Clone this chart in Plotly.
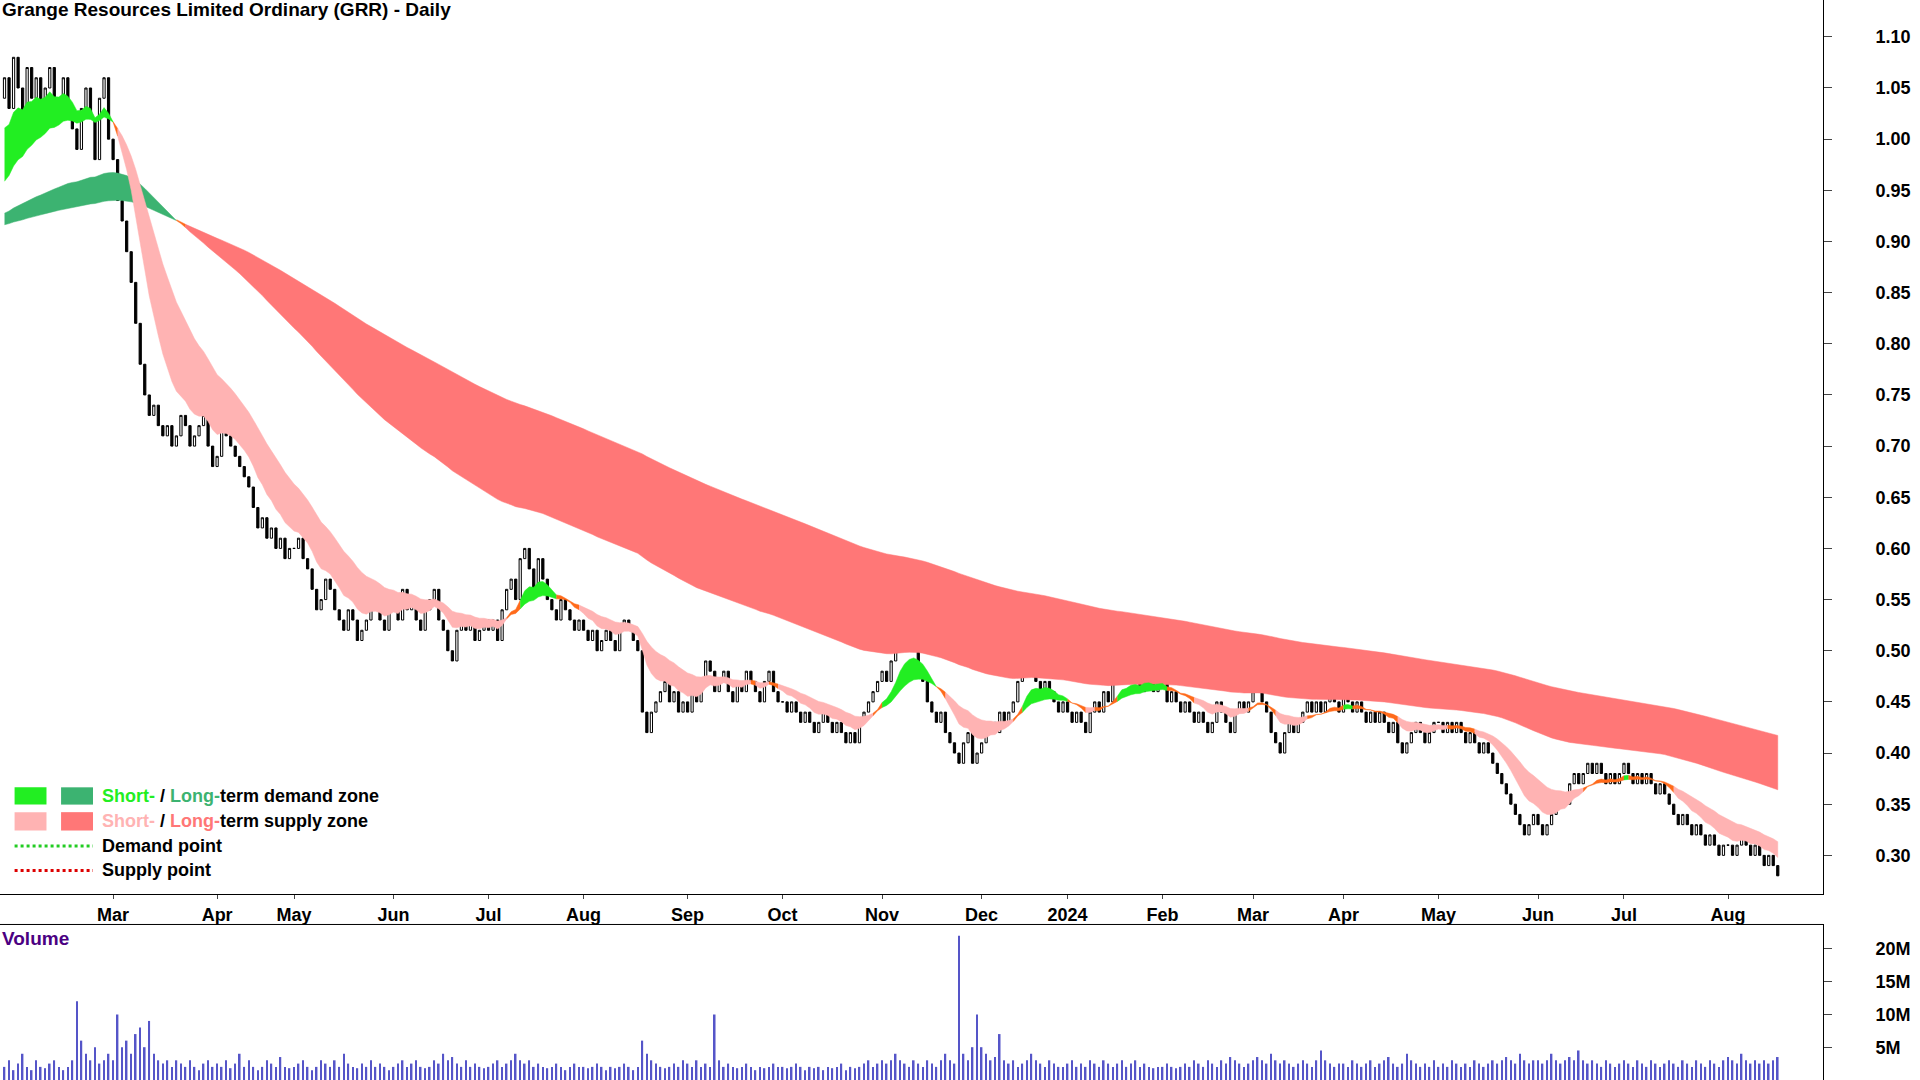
import plotly.graph_objects as go

# daily closes by month
month_labels = ["", "Mar", "Apr", "May", "Jun", "Jul", "Aug", "Sep", "Oct", "Nov", "Dec",
                "2024", "Feb", "Mar", "Apr", "May", "Jun", "Jul", "Aug"]
closes_by_month = [
    [1.06, 1.03, 1.08, 1.05, 1.02, 1.07, 1.04, 1.06, 1.03, 1.05, 1.07, 1.02, 1.04, 1.06, 1.03, 1.01, 0.99, 1.03, 1.05, 1.02, 0.98, 1.04, 1.06, 1.00],
    [0.98, 0.94, 0.92, 0.89, 0.86, 0.82, 0.78, 0.75, 0.73, 0.74, 0.72, 0.71, 0.72, 0.70, 0.71, 0.73, 0.72, 0.70, 0.71, 0.72, 0.73, 0.70, 0.68],
    [0.69, 0.72, 0.71, 0.70, 0.69, 0.68, 0.67, 0.66, 0.64, 0.62, 0.63, 0.61, 0.62, 0.60, 0.61, 0.59, 0.60],
    [0.60, 0.61, 0.59, 0.58, 0.56, 0.54, 0.55, 0.57, 0.56, 0.54, 0.53, 0.52, 0.54, 0.53, 0.51, 0.52, 0.53, 0.55, 0.54, 0.53, 0.52, 0.54],
    [0.55, 0.53, 0.56, 0.54, 0.55, 0.53, 0.52, 0.54, 0.55, 0.56, 0.53, 0.52, 0.50, 0.49, 0.52, 0.53, 0.52, 0.53, 0.51, 0.52, 0.53],
    [0.52, 0.53, 0.51, 0.54, 0.56, 0.57, 0.55, 0.59, 0.60, 0.58, 0.56, 0.59, 0.57, 0.55, 0.54, 0.53, 0.55, 0.54, 0.53, 0.52, 0.53],
    [0.52, 0.51, 0.52, 0.50, 0.51, 0.52, 0.51, 0.50, 0.52, 0.53, 0.52, 0.51, 0.50, 0.44, 0.42, 0.44, 0.45, 0.46, 0.47, 0.45, 0.46, 0.44, 0.45],
    [0.44, 0.46, 0.45, 0.47, 0.49, 0.48, 0.46, 0.47, 0.48, 0.46, 0.45, 0.47, 0.46, 0.48, 0.47, 0.46, 0.45, 0.47, 0.48, 0.46, 0.45],
    [0.45, 0.44, 0.45, 0.44, 0.43, 0.44, 0.43, 0.42, 0.43, 0.44, 0.43, 0.42, 0.43, 0.42, 0.41, 0.42, 0.41, 0.43, 0.44, 0.45, 0.46, 0.47],
    [0.48, 0.47, 0.49, 0.51, 0.53, 0.52, 0.51, 0.50, 0.48, 0.47, 0.45, 0.44, 0.43, 0.44, 0.42, 0.41, 0.40, 0.39, 0.41, 0.42, 0.39, 0.40],
    [0.41, 0.42, 0.43, 0.42, 0.44, 0.43, 0.44, 0.45, 0.47, 0.48, 0.50, 0.49, 0.47, 0.46, 0.47, 0.46, 0.45, 0.44, 0.45],
    [0.44, 0.43, 0.44, 0.43, 0.42, 0.44, 0.45, 0.44, 0.46, 0.45, 0.47, 0.48, 0.49, 0.47, 0.48, 0.47, 0.46, 0.48, 0.47, 0.46, 0.47],
    [0.47, 0.45, 0.46, 0.45, 0.44, 0.45, 0.44, 0.43, 0.44, 0.43, 0.42, 0.43, 0.45, 0.44, 0.43, 0.42, 0.44, 0.45, 0.44, 0.45],
    [0.46, 0.47, 0.45, 0.44, 0.42, 0.41, 0.40, 0.42, 0.43, 0.42, 0.43, 0.44, 0.45, 0.44, 0.45, 0.44, 0.45, 0.46, 0.45, 0.44],
    [0.46, 0.45, 0.44, 0.45, 0.44, 0.43, 0.44, 0.43, 0.44, 0.43, 0.42, 0.43, 0.41, 0.40, 0.41, 0.42, 0.43, 0.42, 0.41, 0.42, 0.43],
    [0.43, 0.42, 0.43, 0.42, 0.43, 0.42, 0.41, 0.42, 0.41, 0.40, 0.41, 0.40, 0.39, 0.38, 0.37, 0.36, 0.35, 0.34, 0.33, 0.32, 0.33, 0.34],
    [0.33, 0.32, 0.33, 0.34, 0.35, 0.36, 0.35, 0.37, 0.38, 0.37, 0.38, 0.39, 0.38, 0.39, 0.38, 0.37, 0.38, 0.37, 0.38],
    [0.39, 0.38, 0.37, 0.38, 0.37, 0.38, 0.37, 0.36, 0.37, 0.36, 0.35, 0.34, 0.33, 0.34, 0.33, 0.32, 0.33, 0.32, 0.31, 0.32, 0.31, 0.30, 0.31],
    [0.31, 0.30, 0.31, 0.32, 0.31, 0.30, 0.31, 0.30, 0.29, 0.30, 0.29, 0.28],
]
# volume in millions, same months
volume_by_month = [
    [2, 3, 1.5, 2.5, 4, 2, 1.5, 3, 2, 1.8, 2.5, 3, 2, 1.5, 2, 3, 12, 6, 4, 3, 5, 2.5, 3, 4],
    [3, 10, 5, 6, 4, 7, 8, 5, 9, 4, 3, 2.5, 3, 2, 3, 2.5, 2, 3, 2, 1.5, 2.5, 3, 2],
    [2.5, 2, 3, 1.8, 2.5, 4, 2, 3, 2, 1.5, 2, 3, 2.5, 2, 3.5, 2, 1.8],
    [2, 2.5, 3, 2, 1.5, 2, 3, 2.5, 2, 3, 2, 4, 2.5, 2, 1.8, 2.5, 2, 3, 2, 2.5, 2, 1.5],
    [2, 2.5, 3, 2, 2.5, 3, 2, 1.8, 2, 3, 2.5, 4, 3, 3.5, 2.5, 2, 3, 2, 2.5, 2, 1.8],
    [2, 2.5, 3, 2, 2.5, 3, 4, 3, 2.5, 3, 2, 2.5, 2, 1.8, 2, 2.5, 2, 1.5, 2, 2.5, 2],
    [2, 1.8, 2, 2.5, 2, 1.5, 2, 1.8, 2, 2.5, 2, 1.5, 2, 6, 4, 3, 2.5, 2, 1.8, 2, 2.5, 2, 3],
    [2.5, 2, 3, 2, 2.5, 2, 10, 3, 2, 2.5, 2, 1.8, 2, 2.5, 2, 1.5, 2, 1.8, 2, 2.5, 2],
    [2, 1.8, 2, 2.5, 2, 1.5, 2, 1.8, 2, 1.5, 2, 1.8, 2, 2.5, 1.5, 2, 1.8, 2, 2.5, 3, 2, 2.5],
    [3, 2.5, 3, 4, 3, 2.5, 2, 3, 2.5, 2, 3, 2.5, 2, 3, 4, 3, 2.5, 22, 4, 3, 5, 10],
    [5, 4, 3, 3.5, 7, 3, 2.5, 3, 2, 2.5, 3, 4, 3, 2.5, 2, 3, 2.5, 2, 2],
    [2.5, 3, 2, 2.5, 2, 3, 2.5, 2, 3, 2.5, 2, 2.5, 3, 2, 2.5, 3, 2, 2.5, 2, 1.8, 2],
    [2, 2.5, 2, 1.8, 2, 2.5, 2, 3, 2.5, 2, 3, 2.5, 2, 3, 2.5, 3.5, 3, 2.5, 2, 2.5],
    [3, 3.5, 3, 2.5, 4, 3, 2.5, 3, 2.5, 2, 2.5, 3, 2.5, 2, 3, 4.5, 3, 2.5, 2, 2.5],
    [2.5, 2, 3, 2.5, 2, 2.5, 3, 2, 2.5, 3, 3.5, 2.5, 2, 2.5, 4, 3, 2.5, 2, 2.5, 2, 3],
    [2, 2.5, 2, 3, 2.5, 2, 2.5, 2, 3, 2.5, 2, 2.5, 3, 2.5, 3, 3.5, 3, 2.5, 4, 3, 2.5, 3],
    [3, 2.5, 3, 4, 3, 2.5, 3, 3.5, 3, 4.5, 3, 2.5, 3, 2.5, 2, 3, 2.5, 2, 2.5],
    [3, 2.5, 2, 3, 2.5, 2, 3, 2.5, 2, 2.5, 3, 2.5, 2, 3, 2.5, 2, 3, 2.5, 2, 3, 2.5, 2, 3],
    [3.5, 3, 2.5, 4, 3, 2.5, 3, 2.5, 3, 2.5, 3, 3.5],
]
first_open = 1.04
# starting values of the moving-average bands at the left edge
short_seed = [1.00, 0.95]
long_seed = [0.925, 0.915]

close = [c for m in closes_by_month for c in m]
volume = [v * 1e6 for m in volume_by_month for v in m]
n = len(close)
idx = list(range(n))
opn = [first_open] + close[:-1]
high = [max(o, c) for o, c in zip(opn, close)]
low = [min(o, c) for o, c in zip(opn, close)]

month_start = []
k = 0
for m in closes_by_month:
    month_start.append(k)
    k += len(m)


def ema(vals, span, seed):
    a = 2 / (span + 1)
    out, e = [], seed
    for v in vals:
        e = e + a * (v - e)
        out.append(e)
    return out


fig = go.Figure()


def band(fast, slow, cols, tol):
    up = [max(a, b) for a, b in zip(fast, slow)]
    lo = [min(a, b) for a, b in zip(fast, slow)]
    state = []
    for a, b in zip(fast, slow):
        state.append("o" if abs(a - b) < tol else ("d" if a > b else "s"))
    i = 0
    while i < n:
        j = i
        while j + 1 < n and state[j + 1] == state[i]:
            j += 1
        e = min(j + 1, n - 1)
        xs = idx[i:e + 1] + idx[i:e + 1][::-1]
        ys = up[i:e + 1] + lo[i:e + 1][::-1]
        fig.add_trace(go.Scatter(x=xs, y=ys, fill="toself", fillcolor=cols[state[i]],
                                 line=dict(width=0.5, color=cols[state[i]]), mode="lines",
                                 hoverinfo="skip", showlegend=False))
        i = j + 1


band(ema(close, 100, long_seed[0]), ema(close, 210, long_seed[1]),
     {"d": "#3cb371", "s": "#ff7777", "o": "#ff6a1a"}, 0.002)
band(ema(close, 10, short_seed[0]), ema(close, 24, short_seed[1]),
     {"d": "#22ee22", "s": "#ffb3b3", "o": "#ff6a1a"}, 0.004)

fig.add_trace(go.Candlestick(x=idx, open=opn, high=high, low=low, close=close,
                             increasing=dict(line=dict(color="black", width=1), fillcolor="white"),
                             decreasing=dict(line=dict(color="black", width=1), fillcolor="black"),
                             whiskerwidth=0, showlegend=False, xaxis="x", yaxis="y"))
fig.add_trace(go.Bar(x=idx, y=volume, marker=dict(color="#5555c8", line=dict(width=0)),
                     width=0.35, showlegend=False, xaxis="x2", yaxis="y2"))

font = "Liberation Sans, Arial"
tf = dict(size=18, family=font, weight="bold")
xr = [-1, 402]
fig.update_layout(
    width=1920, height=1080, margin=dict(l=0, r=97, t=0, b=0),
    paper_bgcolor="white", plot_bgcolor="white",
    font=dict(family=font, color="black"),
    xaxis=dict(domain=[0, 1], range=xr, anchor="y", tickvals=month_start[1:], ticktext=month_labels[1:],
               showgrid=False, showline=True, linecolor="black", ticks="outside", ticklen=4,
               tickfont=tf, rangeslider=dict(visible=False)),
    yaxis=dict(domain=[0.172, 1], range=[0.262, 1.136], side="right", anchor="x",
               tickvals=[0.30, 0.35, 0.40, 0.45, 0.50, 0.55, 0.60, 0.65, 0.70, 0.75, 0.80, 0.85, 0.90, 0.95, 1.00, 1.05, 1.10],
               tickformat=".2f", showgrid=False, showline=True, linecolor="black", ticks="outside",
               ticklen=8, tickfont=tf, ticklabelstandoff=40),
    xaxis2=dict(domain=[0, 1], range=xr, anchor="y2", showticklabels=False, showgrid=False),
    yaxis2=dict(domain=[0, 0.144], range=[0, 23.7e6], side="right", anchor="x2",
                tickvals=[0, 5e6, 10e6, 15e6, 20e6], ticktext=["0", "5M", "10M", "15M", "20M"],
                showgrid=False, showline=True, linecolor="black", ticks="outside", ticklen=8,
                tickfont=tf, ticklabelstandoff=40),
    showlegend=False,
)
fig.add_shape(type="line", xref="paper", yref="paper", x0=0, x1=1, y0=0.144, y1=0.144,
              line=dict(color="black", width=1))

fig.add_annotation(x=0.0, y=1.003, xref="paper", yref="paper", xanchor="left", yanchor="top",
                   text="<b>Grange Resources Limited Ordinary (GRR) - Daily</b>", showarrow=False,
                   font=dict(size=19, family=font))
fig.add_annotation(x=0.0, y=0.143, xref="paper", yref="paper", xanchor="left", yanchor="top",
                   text="<b>Volume</b>", showarrow=False, font=dict(size=19, family=font, color="#4b0082"))

# legend
for x0, x1, y0, y1, c in [(0.008, 0.0255, 0.255, 0.271, "#22ee22"), (0.0335, 0.051, 0.255, 0.271, "#3cb371"),
                          (0.008, 0.0255, 0.231, 0.248, "#ffb3b3"), (0.0335, 0.051, 0.231, 0.248, "#ff7777")]:
    fig.add_shape(type="rect", xref="paper", yref="paper", x0=x0, x1=x1, y0=y0, y1=y1,
                  fillcolor=c, line=dict(width=0))
for y, c in [(0.2166, "#22cc22"), (0.194, "#dd0000")]:
    fig.add_shape(type="line", xref="paper", yref="paper", x0=0.008, x1=0.051, y0=y, y1=y,
                  line=dict(color=c, width=3, dash="dot"))
leg = [
    (0.263, "<span style='color:#22ee22'>Short-</span> / <span style='color:#3cb371'>Long-</span>term demand zone"),
    (0.2395, "<span style='color:#ffb3b3'>Short-</span> / <span style='color:#ff7777'>Long-</span>term supply zone"),
    (0.2166, "Demand point"),
    (0.194, "Supply point"),
]
for y, t in leg:
    fig.add_annotation(x=0.055, y=y, xref="paper", yref="paper", xanchor="left", yanchor="middle",
                       text="<b>" + t + "</b>", showarrow=False, font=dict(size=18, family=font))

fig.write_html("out.html", config={"displayModeBar": False},
               post_script="document.body.style.margin='0';")
